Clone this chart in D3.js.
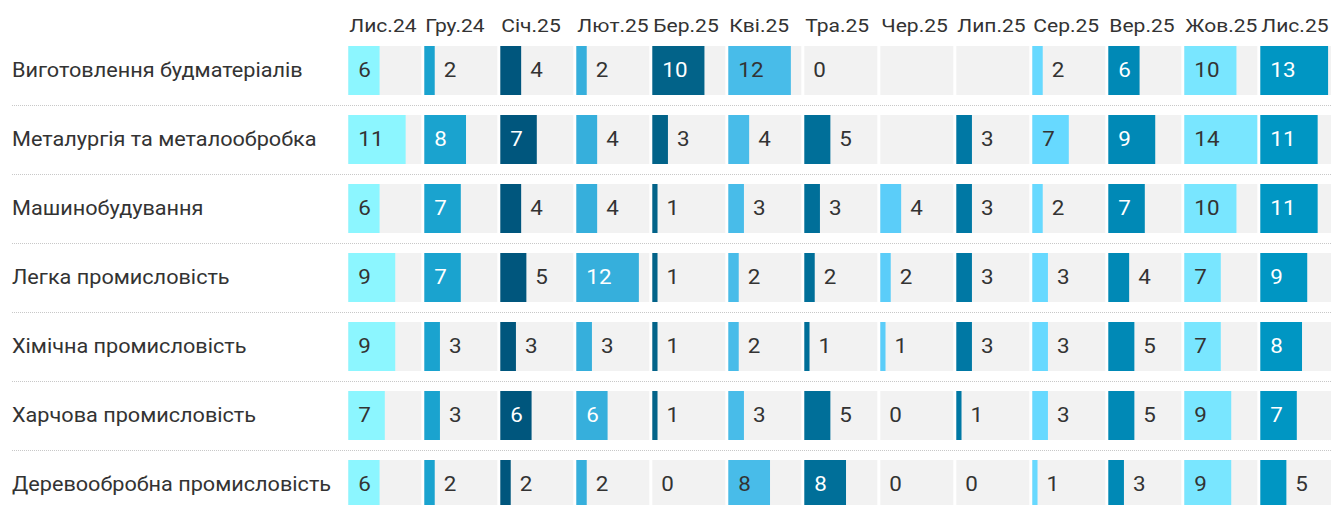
<!DOCTYPE html>
<html lang="uk">
<head>
<meta charset="utf-8">
<script src="https://cdn.jsdelivr.net/npm/d3@7"></script>
<style>
  html, body { margin: 0; padding: 0; background: #fff; overflow: hidden; }
  svg { display: block; font-family: Roboto, "Noto Sans", sans-serif; }
</style>
</head>
<body>
<svg id="chart" width="1331" height="505"></svg>
<script>
// Column headers (months)
const months = ["Лис.24", "Гру.24", "Січ.25", "Лют.25", "Бер.25", "Кві.25", "Тра.25",
                "Чер.25", "Лип.25", "Сер.25", "Вер.25", "Жов.25", "Лис.25"];

// Row labels (industries)
const industries = [
  "Виготовлення будматеріалів",
  "Металургія та металообробка",
  "Машинобудування",
  "Легка промисловість",
  "Хімічна промисловість",
  "Харчова промисловість",
  "Деревообробна промисловість"
];

// Values per industry, one per month (null = no data)
const budmaterialy   = [6, 2, 4, 2, 10, 12, 0, null, null, 2, 6, 10, 13];
const metalurhiia    = [11, 8, 7, 4, 3, 4, 5, null, 3, 7, 9, 14, 11];
const mashynobuduv   = [6, 7, 4, 4, 1, 3, 3, 4, 3, 2, 7, 10, 11];
const lehka          = [9, 7, 5, 12, 1, 2, 2, 2, 3, 3, 4, 7, 9];
const khimichna      = [9, 3, 3, 3, 1, 2, 1, 1, 3, 3, 5, 7, 8];
const kharchova      = [7, 3, 6, 6, 1, 3, 5, 0, 1, 3, 5, 9, 7];
const derevoobrobna  = [6, 2, 2, 2, 0, 8, 8, 0, 0, 1, 3, 9, 5];

const rows = [budmaterialy, metalurhiia, mashynobuduv, lehka, khimichna, kharchova, derevoobrobna];

// Bar colour for each month column
const columnColors = ["#8cf6ff", "#1aa3cf", "#00567d", "#36afdc", "#026389", "#48bce9", "#006f99",
                      "#5bcdf9", "#0078a4", "#67d9ff", "#0089b6", "#79e6ff", "#0096c3"];

const svg = d3.select("#chart");

const colStart = 348.3, colStep = 76, cellGap = 3;
const rowTop = 46, rowStep = 69, rowGap = 20;

// Wide-set type: glyphs are drawn slightly stretched horizontally
const headerFont = { size: 18.3, sx: 1.15 };
const labelFont  = { size: 19.7, sx: 1.10 };
const valueFont  = { size: 20,   sx: 1.12 };
const textColor = "#333";

const x = d3.scaleBand()
  .domain(months)
  .range([colStart, colStart + months.length * colStep - cellGap])
  .paddingInner(cellGap / colStep)
  .paddingOuter(0);

const y = d3.scaleBand()
  .domain(industries)
  .range([rowTop, rowTop + industries.length * rowStep - rowGap])
  .paddingInner(rowGap / rowStep)
  .paddingOuter(0);

const w = d3.scaleLinear().domain([0, 14]).range([0, x.bandwidth()]);

const color = d3.scaleOrdinal().domain(months).range(columnColors);

const place = (px, py, sx) => `translate(${px},${py}) scale(${sx},1)`;

// Column headers
svg.append("g").selectAll("text")
  .data(months)
  .join("text")
  .attr("transform", d => place(x(d) + 1, 32, headerFont.sx))
  .attr("font-size", headerFont.size)
  .attr("fill", textColor)
  .text(d => d);

// Dotted separators below each row except the last
svg.append("g").selectAll("line")
  .data(industries.slice(0, -1))
  .join("line")
  .attr("x1", 12)
  .attr("x2", 1331)
  .attr("y1", d => y(d) + y.bandwidth() + 10.5)
  .attr("y2", d => y(d) + y.bandwidth() + 10.5)
  .attr("stroke", "#c8c8c8")
  .attr("stroke-width", 1)
  .attr("stroke-dasharray", "1,1");

const rowG = svg.append("g").selectAll("g")
  .data(industries)
  .join("g")
  .attr("transform", d => `translate(0,${y(d)})`);

// Row labels
rowG.append("text")
  .attr("transform", place(12, y.bandwidth() / 2, labelFont.sx))
  .attr("dy", "0.34em")
  .attr("font-size", labelFont.size)
  .attr("fill", textColor)
  .text(d => d);

const cells = rowG.selectAll("g.cell")
  .data((d, i) => months.map((m, j) => ({ month: m, value: rows[i][j] })))
  .join("g")
  .attr("class", "cell")
  .attr("transform", d => `translate(${x(d.month)},0)`);

// Cell background
cells.append("rect")
  .attr("width", x.bandwidth())
  .attr("height", y.bandwidth())
  .attr("fill", "#f2f2f2");

// Bars
cells.filter(d => d.value != null)
  .append("rect")
  .attr("width", d => w(d.value))
  .attr("height", y.bandwidth())
  .attr("fill", d => color(d.month));

// Value labels: inside the bar when it fits, otherwise just after it
cells.filter(d => d.value != null)
  .append("text")
  .attr("dy", "0.34em")
  .attr("font-size", valueFont.size)
  .text(d => d.value)
  .each(function (d) {
    const t = d3.select(this);
    const tw = this.getComputedTextLength() * valueFont.sx;
    const bw = w(d.value);
    const inside = bw >= tw + 18;
    const light = d3.lab(color(d.month)).l > 68;
    t.attr("transform", place(inside ? 10 : bw + 9, y.bandwidth() / 2, valueFont.sx))
     .attr("fill", inside ? (light ? textColor : "#fff") : textColor);
  });
</script>
</body>
</html>
